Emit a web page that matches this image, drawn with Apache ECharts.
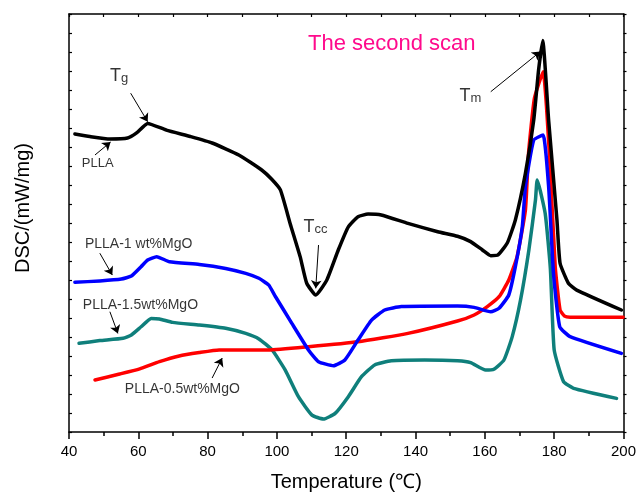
<!DOCTYPE html>
<html>
<head>
<meta charset="utf-8">
<script src="https://cdn.jsdelivr.net/npm/echarts@6/dist/echarts.min.js"></script>
<style>
  html, body { margin: 0; padding: 0; background: #fff; }
  #main { width: 639px; height: 498px; }
</style>
</head>
<body>
<div id="main"></div>
<script>
// DSC second scan, [temperature, DSC (arb. units)]
var plla = [
  [41.7, 15.68], [46, 15.55], [51.8, 15.42], [56.9, 15.47], [59.5, 15.74], [62.7, 16.24],
  [68.1, 15.89], [75, 15.55], [81.3, 15.21], [89.0, 14.58], [95.6, 13.79], [98.5, 13.3],
  [101.0, 12.74], [103.8, 10.98], [106.7, 9.23], [108.6, 7.83], [111.2, 7.21], [114.4, 8.0],
  [117.7, 9.58], [120.6, 10.8], [123.4, 11.33], [126.3, 11.47], [130.1, 11.42], [137.8, 10.98],
  [146.4, 10.54], [152.1, 10.3], [155.9, 10.02], [159.3, 9.58], [161.7, 9.28], [163.8, 9.32],
  [166.5, 9.96], [168.8, 11.16], [171.7, 13.61], [174.1, 16.42], [175.5, 19.05], [176.7, 20.6],
  [178.4, 16.42], [180.8, 11.16], [181.7, 8.88], [184.1, 7.83], [186.5, 7.47], [199.4, 6.42]
];
var mgo05 = [
  [47.5, 2.74], [54.6, 3.05], [60.4, 3.32], [66.1, 3.7], [71.8, 4.0], [77.6, 4.18],
  [83.3, 4.32], [90, 4.32], [97.6, 4.32], [109.1, 4.49], [123.4, 4.75], [137.8, 5.19],
  [152.1, 5.84], [156.9, 6.16], [160.7, 6.6], [164.1, 7.12], [166.9, 8.0], [169.3, 9.23],
  [171.7, 11.68], [172.6, 14.67], [174.3, 17.56], [176.8, 18.96], [178.5, 15.0], [180.3, 8.7],
  [181.7, 6.42], [183, 6.1], [184.6, 6.04], [199.9, 6.04]
];
var mgo1 = [
  [41.7, 7.88], [48.9, 7.95], [55.1, 8.05], [58.0, 8.21], [60.8, 8.7], [62.7, 9.05],
  [65.3, 9.23], [69.0, 8.96], [77.6, 8.82], [85.2, 8.61], [91.0, 8.35], [94.8, 8.09],
  [97.6, 7.74], [99.6, 7.12], [104.3, 5.72], [109.1, 4.32], [112.0, 3.7], [116.3, 3.49],
  [119.6, 3.79], [123.4, 4.84], [127.3, 5.89], [131.1, 6.42], [135.9, 6.6], [152.1, 6.63],
  [156.9, 6.56], [161.7, 6.33], [164.1, 6.51], [166.9, 7.21], [168.8, 8.7], [170.8, 10.81],
  [171.7, 12.91], [174.1, 15.37], [176.8, 15.63], [178.4, 12.91], [179.8, 8.35], [181.6, 5.54],
  [184.6, 5.02], [199.4, 4.14]
];
var mgo15 = [
  [42.9, 4.67], [48.9, 4.81], [55.6, 4.93], [58.0, 5.11], [60.8, 5.54], [63.7, 5.98],
  [66.1, 5.95], [69.9, 5.77], [77.6, 5.63], [85.2, 5.46], [91.0, 5.19], [94.8, 4.9],
  [98.6, 4.32], [102.4, 3.26], [106.2, 1.86], [110.1, 0.89], [113.4, 0.68], [116.8, 0.98],
  [120.6, 1.86], [124.4, 2.91], [128.2, 3.53], [133.0, 3.75], [142.6, 3.79], [152.1, 3.75],
  [155.9, 3.65], [160.2, 3.26], [162.6, 3.3], [165.5, 3.79], [167.9, 5.02], [170.3, 6.95],
  [172.7, 9.58], [174.6, 12.21], [175.1, 13.26], [177.4, 11.51], [178.9, 8.6], [180.0, 4.32],
  [182.7, 2.65], [185.6, 2.3], [198.0, 1.77]
];

// annotation texts (left edge, vertical middle) and arrows
var noteText = [
  { value: [152.7, 17.68], text: "{t|T}{s|m}" },
  { value: [51.8, 18.74], text: "{t|T}{s|g}" },
  { value: [107.7, 10.79], text: "{t|T}{s|cc}" },
  { value: [43.7, 14.16], text: "{p|PLLA}" },
  { value: [44.6, 9.89], text: "{m|PLLA-1 wt%MgO}" },
  { value: [44.0, 6.68], text: "{m|PLLA-1.5wt%MgO}" },
  { value: [56.1, 2.26], text: "{m|PLLA-0.5wt%MgO}" }
];
var noteArrows = [
  [[161.7, 17.91], [176.0, 20.02]],
  [[57.8, 17.83], [62.7, 16.33]],
  [[47.5, 14.58], [52.0, 15.26]],
  [[112.0, 9.84], [111.2, 7.56]],
  [[48.9, 9.41], [52.5, 8.26]],
  [[51.8, 6.33], [54.1, 5.19]],
  [[81.3, 2.84], [84.2, 3.89]]
];

var font = "'Liberation Sans', Arial, sans-serif";
var myChart = echarts.init(document.getElementById("main"));

function curve(name, data, color) {
  return {
    name: name,
    type: "line",
    data: data,
    symbol: "none",
    smooth: 0.15,
    lineStyle: { color: color, width: 3.5, join: "round", cap: "round" },
    z: 3
  };
}

var axisLine = { show: true, onZero: false, lineStyle: { color: "#000", width: 1.5 } };

var option = {
  animation: false,
  backgroundColor: "#fff",
  title: {
    text: "The second scan",
    left: 303,
    top: 28,
    textStyle: { color: "#ff0a8c", fontSize: 22, fontWeight: "normal", fontFamily: font }
  },
  grid: { left: 69, right: 12, top: 14, bottom: 66 },
  xAxis: [
    {
      type: "value",
      min: 40,
      max: 200,
      interval: 20,
      position: "bottom",
      name: "Temperature (℃)",
      nameLocation: "middle",
      nameGap: 40,
      nameTextStyle: { color: "#000", fontSize: 20, fontFamily: font },
      axisLine: axisLine,
      axisTick: { inside: false, length: 7, lineStyle: { color: "#000", width: 1.5 } },
      minorTick: { show: true, splitNumber: 2, length: 4, lineStyle: { color: "#000", width: 1.5 } },
      axisLabel: { color: "#000", fontSize: 15, fontFamily: font, margin: 12 },
      splitLine: { show: false }
    },
    {
      type: "value",
      min: 40,
      max: 200,
      interval: 10,
      position: "top",
      axisLine: axisLine,
      axisTick: { inside: true, length: 3, lineStyle: { color: "#000", width: 1.2 } },
      axisLabel: { show: false },
      splitLine: { show: false }
    }
  ],
  yAxis: [
    {
      type: "value",
      min: 0,
      max: 22,
      interval: 1,
      position: "left",
      name: "DSC/(mW/mg)",
      nameLocation: "middle",
      nameGap: 36,
      nameTextStyle: { color: "#000", fontSize: 20, fontFamily: font, padding: [0, 0, 0, 30] },
      axisLine: axisLine,
      axisTick: { inside: true, length: 3, lineStyle: { color: "#000", width: 1.2 } },
      axisLabel: { show: false },
      splitLine: { show: false }
    },
    {
      type: "value",
      min: 0,
      max: 22,
      interval: 1,
      position: "right",
      axisLine: axisLine,
      axisTick: { inside: false, length: 3, lineStyle: { color: "#000", width: 1.2 } },
      axisLabel: { show: false },
      splitLine: { show: false }
    }
  ],
  series: [
    curve("PLLA-1.5wt%MgO", mgo15, "#0f7f7b"),
    curve("PLLA-0.5wt%MgO", mgo05, "#ff0000"),
    curve("PLLA-1 wt%MgO", mgo1, "#0000ff"),
    curve("PLLA", plla, "#000000"),
    {
      name: "arrows",
      type: "lines",
      coordinateSystem: "cartesian2d",
      polyline: false,
      symbol: ["none", "arrow"],
      symbolSize: [0, 8],
      lineStyle: { color: "#000", width: 1, opacity: 1, curveness: 0 },
      data: noteArrows.map(function (a) { return { coords: a }; }),
      z: 4
    },
    {
      name: "notes",
      type: "scatter",
      symbolSize: 0,
      data: noteText.map(function (n) {
        return {
          value: n.value,
          label: { formatter: n.text }
        };
      }),
      label: {
        show: true,
        position: "right",
        distance: 0,
        color: "#000",
        fontFamily: font,
        rich: {
          t: { fontSize: 18, color: "#000", fontFamily: font, verticalAlign: "bottom" },
          s: { fontSize: 13, color: "#000", fontFamily: font, verticalAlign: "bottom" },
          p: { fontSize: 13, color: "#000", fontFamily: font },
          m: { fontSize: 14, color: "#000", fontFamily: font }
        }
      },
      z: 5
    }
  ]
};

myChart.setOption(option);
window.addEventListener("resize", function () {
  myChart.resize();
});
</script>
</body>
</html>
